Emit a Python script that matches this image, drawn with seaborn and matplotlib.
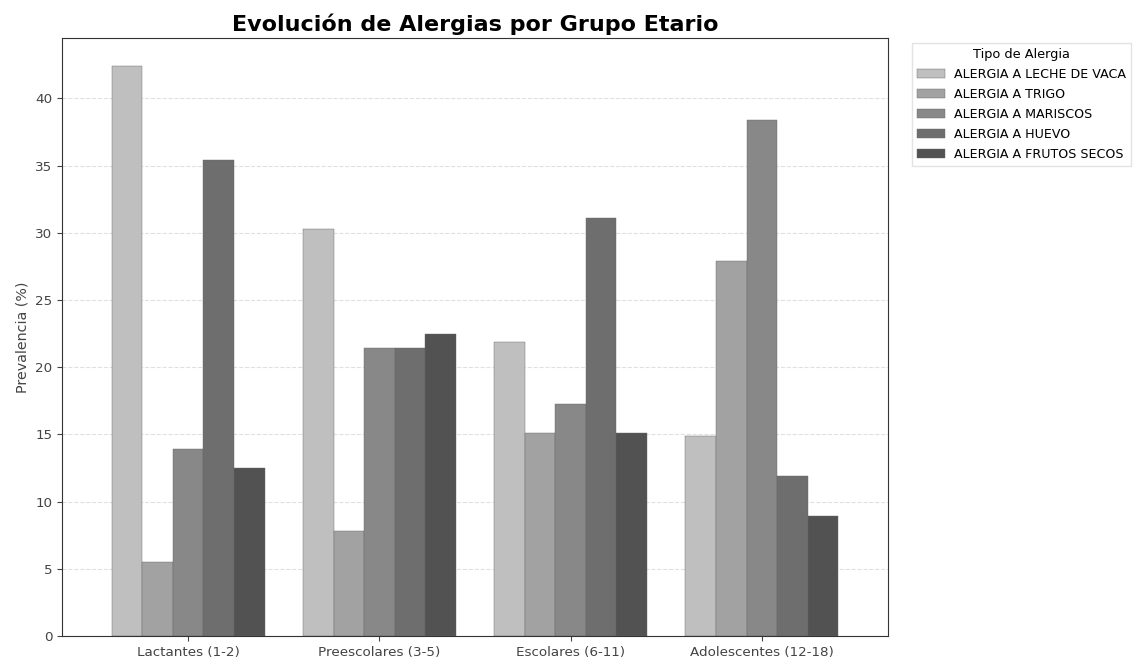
import pandas as pd
import matplotlib
matplotlib.use("Agg")
import matplotlib.pyplot as plt
import seaborn as sns

# ── Data ────────────────────────────────────────────────────
grupos = ['Lactantes (1-2)', 'Preescolares (3-5)', 'Escolares (6-11)', 'Adolescentes (12-18)']
alergias = ['ALERGIA A LECHE DE VACA', 'ALERGIA A TRIGO', 'ALERGIA A MARISCOS',
            'ALERGIA A HUEVO', 'ALERGIA A FRUTOS SECOS']

leche = [42.4, 30.3, 21.9, 14.9]
trigo = [5.5, 7.8, 15.1, 27.9]
mariscos = [13.9, 21.4, 17.3, 38.4]
huevo = [35.4, 21.4, 31.1, 11.9]
frutos = [12.5, 22.5, 15.1, 8.9]

colores = ['#bfbfbf', '#a2a2a2', '#888888', '#6e6e6e', '#525252']

series = [leche, trigo, mariscos, huevo, frutos]
rows = []
for nombre, vals in zip(alergias, series):
    for g, v in zip(grupos, vals):
        rows.append({'Grupo': g, 'Alergia': nombre, 'Prevalencia': v})
df = pd.DataFrame(rows)

# ── Plot ────────────────────────────────────────────────────
fig = plt.figure(figsize=(11.33, 6.57), dpi=100)
ax = fig.add_axes([62 / 1133, 21 / 657, 826 / 1133, 598 / 657])

sns.barplot(data=df, x='Grupo', y='Prevalencia', hue='Alergia',
            order=grupos, hue_order=alergias, palette=colores,
            width=0.8, edgecolor='#666666', linewidth=0.3, ax=ax)

ax.set_xlim(-0.66, 3.66)
ax.set_ylim(0, 44.5)
ax.set_xlabel('')
ax.set_ylabel('Prevalencia (%)', fontsize=10.3, color='#444444')
ax.set_title('Evolución de Alergias por Grupo Etario',
             fontsize=16, fontweight='bold', pad=5)
ax.tick_params(axis='both', labelsize=9.7, colors='#444444')
ax.yaxis.grid(True, linestyle='--', color='#cccccc', alpha=0.6)
ax.set_axisbelow(True)
for s in ax.spines.values():
    s.set_color('#333333')

ax.legend(title='Tipo de Alergia', loc='upper left',
          bbox_to_anchor=(1.029, 0.992), borderaxespad=0,
          fontsize=9.1, title_fontsize=9.3, handlelength=2.2,
          handletextpad=0.7, labelspacing=0.55, frameon=True,
          edgecolor='#dddddd', fancybox=False)

fig.savefig('out.png', dpi=100)
